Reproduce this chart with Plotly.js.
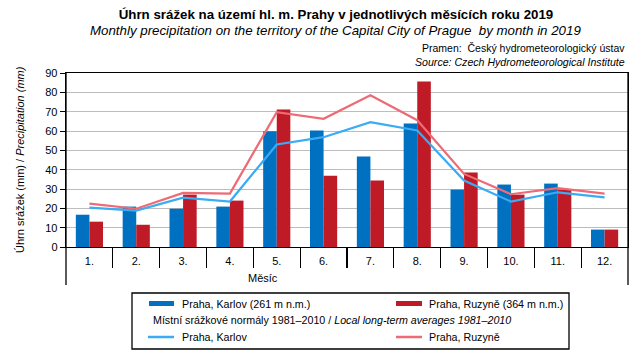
<!DOCTYPE html>
<html>
<head>
<meta charset="utf-8">
<script src="https://cdn.plot.ly/plotly-3.0.1.min.js"></script>
<style>html,body{margin:0;padding:0;background:#fff;}#chart{width:643px;height:355px;}</style>
</head>
<body>
<div id="chart"></div>
<script>
const months = ['1.','2.','3.','4.','5.','6.','7.','8.','9.','10.','11.','12.'];
const karlov2019 = [16.7, 20.9, 19.8, 20.9, 59.9, 60.3, 46.8, 63.9, 29.7, 32.3, 32.8, 9.0];
const ruzyne2019 = [13.1, 11.5, 27.1, 24.0, 71.1, 36.9, 34.4, 85.6, 38.5, 27.1, 29.7, 9.0];
const karlovNormal = [20.4, 18.8, 25.5, 23.5, 53.0, 56.8, 64.6, 60.3, 34.4, 23.5, 28.3, 25.7];
const ruzyneNormal = [22.4, 19.8, 28.0, 27.6, 69.7, 66.3, 78.5, 65.6, 37.8, 27.3, 30.4, 27.6];
const yTicks = [0,10,20,30,40,50,60,70,80,90];

const BLUE = '#0070c0', RED = '#be1b26', LBLUE = '#3aabf5', PINK = '#ec6b75';
const FONT = 'Liberation Sans, Arial, sans-serif';

const traces = [
  {type:'bar', x: months, y: karlov2019, name:'Praha, Karlov (261 m n.m.)', marker:{color:BLUE}, hoverinfo:'y'},
  {type:'bar', x: months, y: ruzyne2019, name:'Praha, Ruzyně (364 m n.m.)', marker:{color:RED}, hoverinfo:'y'},
  {type:'scatter', mode:'lines', x: months, y: karlovNormal, name:'Praha, Karlov', line:{color:LBLUE, width:2.2}},
  {type:'scatter', mode:'lines', x: months, y: ruzyneNormal, name:'Praha, Ruzyně', line:{color:PINK, width:2.2}}
];

// pixel -> paper helpers (plot area: x 66..628, y 73..247)
const L = 66, R = 628, T = 73, B = 247;
const px = v => (v - L) / (R - L);
const py = v => (B - v) / (B - T);

const shapes = [
  {type:'line', xref:'paper', yref:'paper', x0:0, x1:0, y0:1, y1:py(285), line:{color:'#000', width:1.3}},
  {type:'line', xref:'paper', yref:'paper', x0:1, x1:1, y0:1, y1:py(285), line:{color:'#000', width:1.3}},
  {type:'rect', xref:'paper', yref:'paper', x0:px(132), x1:px(569), y0:py(293), y1:py(349), line:{color:'#000', width:1.3}, fillcolor:'rgba(0,0,0,0)'},
  {type:'rect', xref:'paper', yref:'paper', x0:px(149), x1:px(174), y0:py(301), y1:py(306), line:{width:0}, fillcolor:BLUE},
  {type:'rect', xref:'paper', yref:'paper', x0:px(396), x1:px(422), y0:py(301), y1:py(306), line:{width:0}, fillcolor:RED},
  {type:'line', xref:'paper', yref:'paper', x0:px(148), x1:px(174), y0:py(337), y1:py(337), line:{color:LBLUE, width:2.5}},
  {type:'line', xref:'paper', yref:'paper', x0:px(396), x1:px(422), y0:py(337), y1:py(337), line:{color:PINK, width:2.5}}
];

const ann = (text, x, y, opts={}) => Object.assign({text, xref:'paper', yref:'paper', x:px(x), y:py(y), showarrow:false, xanchor:'left', yanchor:'middle', font:{family:FONT, size:11, color:'#000'}}, opts);
const LF = {family:FONT, size:10.7, color:'#000'};

const annotations = [
  ann('<i>Monthly precipitation on the territory of the Capital City of Prague  by month in 2019</i>', 335, 31, {xanchor:'center', font:{family:FONT, size:13.3, color:'#000'}}),
  ann('Pramen:  Český hydrometeorologický ústav', 627, 48, {xanchor:'right', font:{family:FONT, size:10.5, color:'#000'}}),
  ann('<i>Source: Czech Hydrometeorological Institute</i>', 627, 62, {xanchor:'right', font:{family:FONT, size:10.6, color:'#000'}}),
  ann('Úhrn srážek (mm) / <i>Precipitation (mm)</i>', 20, 160, {xanchor:'center', textangle:-90}),
  ann('Měsíc', 263, 278, {xanchor:'center'}),
  ann('Praha, Karlov (261 m n.m.)', 180, 304, {font:LF}),
  ann('Praha, Ruzyně (364 m n.m.)', 427, 304, {font:LF}),
  ann('Místní srážkové normály 1981–2010 / <i>Local long-term averages 1981–2010</i>', 151, 320, {font:LF}),
  ann('Praha, Karlov', 180, 337, {font:LF}),
  ann('Praha, Ruzyně', 427, 337, {font:LF})
];

const layout = {
  width: 643, height: 355,
  margin: {l: L, r: 643 - R, t: T, b: 355 - B, pad: 0},
  paper_bgcolor: '#fff', plot_bgcolor: '#fff',
  font: {family: FONT, size: 11, color: '#000'},
  title: {text: '<b>Úhrn srážek na území hl. m. Prahy v jednotlivých měsících roku 2019</b>', xref:'container', x: 336/643, y: 1 - 14/355, yanchor:'middle', xanchor:'center', font:{family:FONT, size:13.3, color:'#000'}},
  showlegend: false,
  barmode: 'group', bargap: 0.42, bargroupgap: 0,
  xaxis: {type:'category', categoryarray: months, range:[-0.5, 11.5], showline:true, linecolor:'#000', linewidth:1.3, mirror:true,
          ticks:'', showgrid:false, tickfont:{family:FONT, size:11}, ticklabelstandoff: 3, fixedrange:true},
  xaxis2: {overlaying:'x', range:[-0.5, 11.5], tickmode:'array', tickvals:[0.5,1.5,2.5,3.5,4.5,5.5,6.5,7.5,8.5,9.5,10.5],
           ticks:'outside', ticklen:20, tickwidth:1.3, tickcolor:'#000', showticklabels:false, showgrid:false, zeroline:false, showline:false, anchor:'y', side:'bottom'},
  yaxis: {range:[0, 90], tickvals: yTicks, showline:true, linecolor:'#000', linewidth:1.3, mirror:true,
          ticks:'outside', ticklen:5, tickcolor:'#000', showgrid:true, gridcolor:'#bdbdbd', gridwidth:1, zeroline:false,
          tickfont:{family:FONT, size:11}, fixedrange:true},
  shapes, annotations
};

traces.push({type:'scatter', x:[0], y:[null], xaxis:'x2', yaxis:'y', hoverinfo:'skip', showlegend:false, mode:'lines'});

Plotly.newPlot('chart', traces, layout, {staticPlot:true, displayModeBar:false});
</script>
</body>
</html>
